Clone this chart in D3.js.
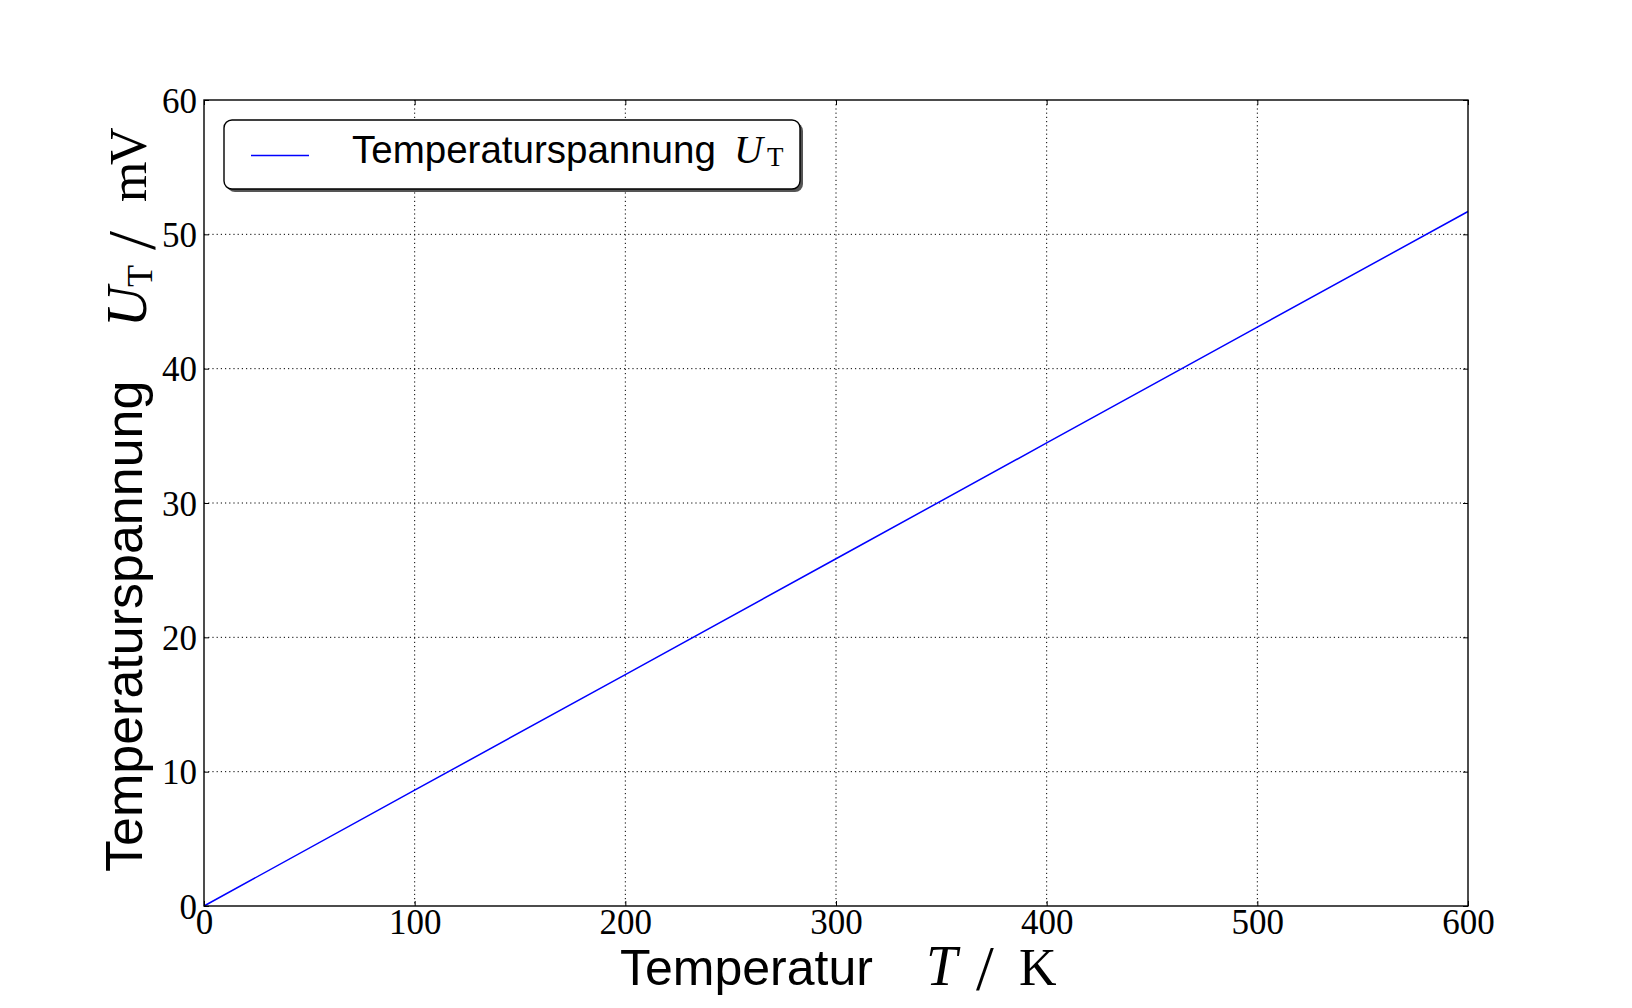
<!DOCTYPE html>
<html>
<head>
<meta charset="utf-8">
<script src="https://cdn.jsdelivr.net/npm/d3@7"></script>
<style>
  html, body { margin: 0; padding: 0; background: #fff; }
  svg { display: block; }
</style>
</head>
<body>
<svg id="chart" width="1632" height="1008"></svg>
<script>
// ---- data ----
const temperatures = [0, 100, 200, 300, 400, 500, 600];          // T / K
const voltages     = [0, 8.62, 17.23, 25.85, 34.47, 43.09, 51.70]; // U_T / mV
const xTickValues  = [0, 100, 200, 300, 400, 500, 600];
const yTickValues  = [0, 10, 20, 30, 40, 50, 60];
const seriesName   = "Temperaturspannung";

// ---- layout ----
const W = 1632, H = 1008;
const plot = { left: 204, right: 1468, top: 100, bottom: 906 };
const serif = "'Liberation Serif', 'DejaVu Serif', serif";
const sans = "'Liberation Sans', Arial, sans-serif";

const svg = d3.select("#chart");
const x = d3.scaleLinear().domain([0, 600]).range([plot.left, plot.right]);
const y = d3.scaleLinear().domain([0, 60]).range([plot.bottom, plot.top]);

// grid
const grid = svg.append("g");
grid.selectAll("line.gx").data(xTickValues.slice(1, -1)).join("line")
  .attr("x1", d => x(d)).attr("x2", d => x(d))
  .attr("y1", plot.top).attr("y2", plot.bottom)
  .attr("stroke", "#000").attr("stroke-width", 1).attr("stroke-dasharray", "1.2,3");
grid.selectAll("line.gy").data(yTickValues.slice(1, -1)).join("line")
  .attr("y1", d => y(d)).attr("y2", d => y(d))
  .attr("x1", plot.left).attr("x2", plot.right)
  .attr("stroke", "#000").attr("stroke-width", 1).attr("stroke-dasharray", "1.2,3");

// data line
const line = d3.line().x((d, i) => x(temperatures[i])).y(d => y(d));
svg.append("path").datum(voltages)
  .attr("d", line).attr("fill", "none")
  .attr("stroke", "#0000ff").attr("stroke-width", 1.5);

// axes (inward ticks, labels)
const xAxis = d3.axisBottom(x).tickValues(xTickValues).tickSizeInner(-5).tickSizeOuter(0).tickPadding(0).tickFormat(d3.format("d"));
const yAxis = d3.axisLeft(y).tickValues(yTickValues).tickSizeInner(-5).tickSizeOuter(0).tickPadding(0).tickFormat(d3.format("d"));
const gx = svg.append("g").attr("transform", `translate(0,${plot.bottom})`).call(xAxis);
const gy = svg.append("g").attr("transform", `translate(${plot.left},0)`).call(yAxis);
[gx, gy].forEach(g => {
  g.select(".domain").remove();
  g.selectAll(".tick line").attr("stroke", "#000").attr("stroke-width", 1);
  g.selectAll(".tick text").attr("fill", "#000").attr("font-family", serif).attr("font-size", 35);
});
gx.selectAll(".tick text").attr("dy", null).attr("y", 28).attr("text-anchor", "middle");
gy.selectAll(".tick text").attr("dy", null).attr("x", -7).attr("y", 12).attr("text-anchor", "end");

// top/right ticks
const gxTop = svg.append("g").attr("transform", `translate(0,${plot.top})`)
  .call(d3.axisTop(x).tickValues(xTickValues).tickSizeInner(-5).tickSizeOuter(0).tickFormat(""));
const gyRight = svg.append("g").attr("transform", `translate(${plot.right},0)`)
  .call(d3.axisRight(y).tickValues(yTickValues).tickSizeInner(-5).tickSizeOuter(0).tickFormat(""));
[gxTop, gyRight].forEach(g => { g.select(".domain").remove(); g.selectAll(".tick line").attr("stroke", "#000"); });

// frame
svg.append("rect")
  .attr("x", plot.left).attr("y", plot.top)
  .attr("width", plot.right - plot.left).attr("height", plot.bottom - plot.top)
  .attr("fill", "none").attr("stroke", "#000").attr("stroke-width", 1.4);

// x label
const xl = svg.append("g");
xl.append("text").attr("x", 620).attr("y", 985).attr("font-family", sans).attr("font-size", 50).attr("fill", "#000").text("Temperatur");
xl.append("text").attr("x", 926).attr("y", 985).attr("font-family", serif).attr("font-style", "italic").attr("font-size", 56).attr("fill", "#000").text("T");
xl.append("text").attr("x", 976).attr("y", 990).attr("font-family", serif).attr("font-size", 64).attr("fill", "#000").text("/");
xl.append("text").attr("x", 1019).attr("y", 985).attr("font-family", serif).attr("font-size", 52).attr("fill", "#000").text("K");

// y label (rotated)
const yl = svg.append("g").attr("transform", "translate(142,872) rotate(-90)");
yl.append("text").attr("x", 0).attr("y", 0).attr("font-family", sans).attr("font-size", 52).attr("fill", "#000").text("Temperaturspannung");
yl.append("text").attr("x", 545).attr("y", 4).attr("font-family", serif).attr("font-style", "italic").attr("font-size", 56).attr("fill", "#000").text("U");
yl.append("text").attr("x", 585).attr("y", 10).attr("font-family", serif).attr("font-size", 36).attr("fill", "#000").text("T");
yl.append("text").attr("x", 622).attr("y", 12).attr("font-family", serif).attr("font-size", 68).attr("fill", "#000").text("/");
yl.append("text").attr("x", 670).attr("y", 4).attr("font-family", serif).attr("font-size", 52).attr("fill", "#000").text("m");
yl.append("text").attr("x", 707).attr("y", 4).attr("font-family", serif).attr("font-size", 52).attr("fill", "#000").text("V");

// legend
const lg = svg.append("g");
lg.append("rect").attr("x", 227).attr("y", 123).attr("width", 576).attr("height", 69)
  .attr("rx", 8).attr("fill", "#555");
lg.append("rect").attr("x", 224).attr("y", 120).attr("width", 576).attr("height", 69)
  .attr("rx", 8).attr("fill", "#fff").attr("stroke", "#000").attr("stroke-width", 1.4);
lg.append("line").attr("x1", 251).attr("x2", 309).attr("y1", 155.5).attr("y2", 155.5)
  .attr("stroke", "#0000ff").attr("stroke-width", 1.5);
lg.append("text").attr("x", 352).attr("y", 163).attr("font-family", sans).attr("font-size", 38.5).attr("fill", "#000").text(seriesName);
lg.append("text").attr("x", 734).attr("y", 163).attr("font-family", serif).attr("font-style", "italic").attr("font-size", 40).attr("fill", "#000").text("U");
lg.append("text").attr("x", 767).attr("y", 166).attr("font-family", serif).attr("font-size", 27).attr("fill", "#000").text("T");
</script>
</body>
</html>
